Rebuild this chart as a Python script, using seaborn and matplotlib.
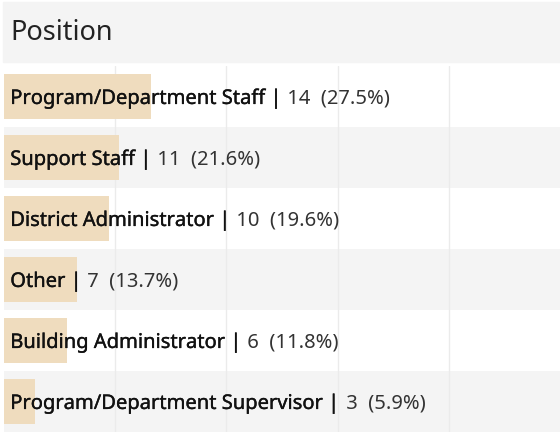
import matplotlib
matplotlib.use("Agg")
import matplotlib.pyplot as plt
import matplotlib.patheffects as pe
import seaborn as sns
import pandas as pd
import numpy as np
from matplotlib.patches import Rectangle

categories = ["Program/Department Staff", "Support Staff", "District Administrator",
              "Other", "Building Administrator", "Program/Department Supervisor"]
counts = [14, 11, 10, 7, 6, 3]
pcts = [27.5, 21.6, 19.6, 13.7, 11.8, 5.9]
title = "Position"

sns.set_theme(style="white")
plt.rcParams['font.family'] = ['Noto Sans', 'DejaVu Sans']

df = pd.DataFrame({"cat": categories, "n": counts})

fig = plt.figure(figsize=(5.6, 4.32), dpi=100)
W, H = 560, 432
ax = fig.add_axes([4 / W, 0, 1 - 4 / W, 366 / H])

# alternating row shading
for i in range(len(categories)):
    if i % 2 == 1:
        ax.axhspan(i - 0.5, i + 0.5, color="#f4f4f4", zorder=0, lw=0)

sns.barplot(data=df, y="cat", x="n", color="#efdcbe", saturation=1, width=0.75,
            ax=ax, zorder=2, edgecolor="none")

xmax = 53
ax.set_xlim(0, xmax)
ax.set_ylim(len(categories) - 0.5, -0.5)
for gx in np.linspace(0, xmax, 6)[1:-1]:
    ax.axvline(gx, color="#ebebeb", lw=1, zorder=1)

ax.set_xticks([])
ax.set_yticks([])
ax.set_xlabel("")
ax.set_ylabel("")
for s in ax.spines.values():
    s.set_visible(False)

heavy = [pe.withStroke(linewidth=0.25, foreground="#111111")]
for i, (c, n, p) in enumerate(zip(categories, counts, pcts)):
    t1 = ax.annotate(c + " |", xy=(0, i + 0.04), xycoords="data", xytext=(4.5, 0),
                     textcoords="offset points", ha="left", va="center",
                     fontsize=14.5, color="#111111", zorder=3, path_effects=heavy)
    ax.annotate(f" {n}  ({p}%)", xy=(1, 0), xycoords=t1, ha="left", va="bottom",
                fontsize=14.5, color="#333333", zorder=3)

# title band
fig.patches.append(Rectangle((3 / W, 1 - 62 / H), 1 - 3 / W, 60 / H,
                             transform=fig.transFigure, color="#f4f4f4", zorder=0))
fig.text(10 / W, 1 - 33 / H, title, fontsize=19.5, color="#222222", va="center",
         ha="left", fontweight="light")

fig.savefig("out.png", dpi=100, facecolor="white")
